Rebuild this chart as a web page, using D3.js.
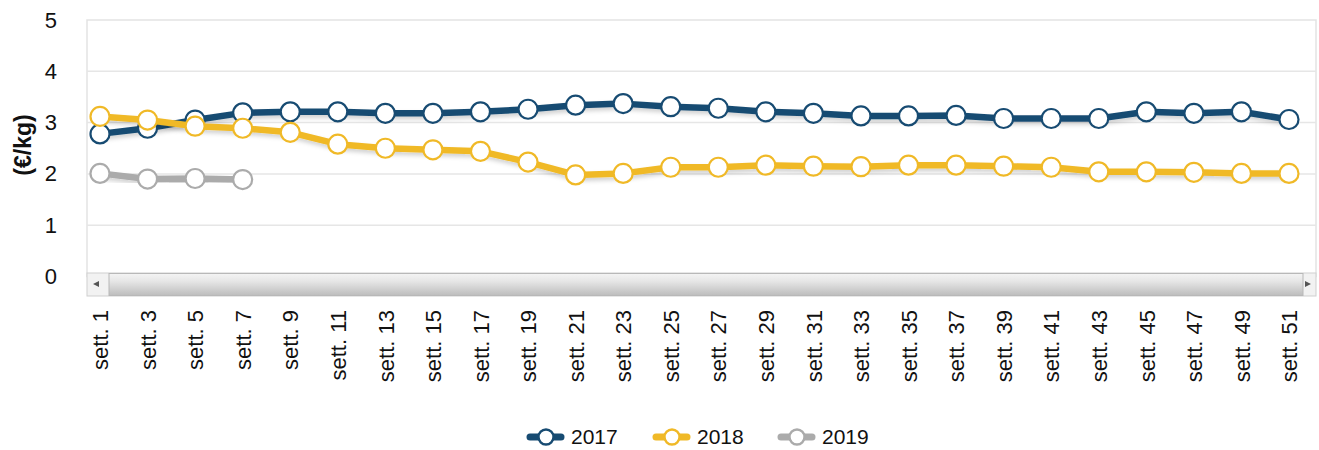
<!DOCTYPE html>
<html><head><meta charset="utf-8">
<script src="https://cdn.jsdelivr.net/npm/d3@7"></script>
<style>body{margin:0;background:#fff;} svg{display:block;font-family:"Liberation Sans",Arial,sans-serif;}</style>
</head><body>
<svg id="c" width="1319" height="450"></svg>
<script>
const categories = ["sett. 1","sett. 3","sett. 5","sett. 7","sett. 9","sett. 11","sett. 13","sett. 15","sett. 17","sett. 19","sett. 21","sett. 23","sett. 25","sett. 27","sett. 29","sett. 31","sett. 33","sett. 35","sett. 37","sett. 39","sett. 41","sett. 43","sett. 45","sett. 47","sett. 49","sett. 51"];
const values2017 = [2.78,2.89,3.05,3.19,3.21,3.21,3.18,3.18,3.21,3.26,3.34,3.37,3.31,3.28,3.21,3.18,3.13,3.13,3.14,3.08,3.08,3.08,3.21,3.18,3.21,3.06];
const values2018 = [3.12,3.05,2.93,2.89,2.81,2.58,2.50,2.47,2.44,2.23,1.98,2.01,2.13,2.13,2.17,2.15,2.14,2.17,2.17,2.15,2.13,2.04,2.04,2.03,2.01,2.01];
const values2019 = [2.01,1.90,1.91,1.89];
const seriesNames = ["2017","2018","2019"];
const seriesColors = ["#174b72","#f0b927","#ababab"];
const yTicks = [0,1,2,3,4,5];

const svg = d3.select("#c");
const plot = {left:87, right:1316, top:20, bottom:276.5};
const x = d3.scalePoint().domain(categories).range([100,1289]);
const y = d3.scaleLinear().domain([0,5]).range([plot.bottom, plot.top]);

const defs = svg.append("defs");
const f = defs.append("filter").attr("id","sh").attr("x","-5%").attr("y","-50%").attr("width","110%").attr("height","200%");
f.append("feDropShadow").attr("dx",1).attr("dy",3).attr("stdDeviation",2).attr("flood-color","#000").attr("flood-opacity",0.18);
const g1 = defs.append("linearGradient").attr("id","thumb").attr("x1",0).attr("y1",0).attr("x2",0).attr("y2",1);
g1.append("stop").attr("offset","0%").attr("stop-color","#f4f4f4");
g1.append("stop").attr("offset","35%").attr("stop-color","#e6e6e6");
g1.append("stop").attr("offset","100%").attr("stop-color","#bdbdbd");

// plot frame
svg.append("rect").attr("x",plot.left).attr("y",plot.top).attr("width",plot.right-plot.left).attr("height",plot.bottom-plot.top)
  .attr("fill","#fff").attr("stroke","#e3e3e3").attr("stroke-width",1.5);

// gridlines
svg.append("g").selectAll("line").data(yTicks.filter(d=>d>0&&d<5)).join("line")
  .attr("x1",plot.left).attr("x2",plot.right).attr("y1",d=>y(d)).attr("y2",d=>y(d))
  .attr("stroke","#e6e6e6").attr("stroke-width",1.5);

// y axis
const yAxis = d3.axisLeft(y).tickValues(yTicks).tickSize(0).tickPadding(0).tickFormat(d3.format("d"));
const ya = svg.append("g").attr("transform","translate(57,0)").call(yAxis);
ya.select(".domain").remove();
ya.selectAll("text").attr("font-size",22).attr("fill","#111").attr("font-family","Liberation Sans, Arial, sans-serif");

svg.append("text").attr("transform","translate(31,145) rotate(-90)").attr("text-anchor","middle")
  .attr("font-size",23).attr("font-weight","bold").attr("fill","#111").text("(€/kg)");

// x axis
const xAxis = d3.axisBottom(x).tickSize(0).tickPadding(0);
const xa = svg.append("g").attr("transform","translate(0,310)").call(xAxis);
xa.select(".domain").remove();
xa.selectAll("text").attr("font-size",22).attr("fill","#111").attr("font-family","Liberation Sans, Arial, sans-serif")
  .attr("text-anchor","end").attr("dy","0.35em").attr("dx",0).attr("y",0).attr("transform","rotate(-90)");

// series
const allSeries = [values2017, values2018, values2019];
const line = d3.line().x((d,i)=>x(categories[i])).y(d=>y(d));
allSeries.forEach((vals,k)=>{
  const g = svg.append("g");
  g.append("path").datum(vals).attr("d",line).attr("fill","none").attr("stroke",seriesColors[k])
    .attr("stroke-width",6.5).attr("stroke-linejoin","round").attr("filter","url(#sh)");
  g.selectAll("circle").data(vals).join("circle")
    .attr("cx",(d,i)=>x(categories[i])).attr("cy",d=>y(d)).attr("r",9.5)
    .attr("fill","#fff").attr("stroke",seriesColors[k]).attr("stroke-width",2.2);
});

// scrollbar
const sb = svg.append("g");
sb.append("rect").attr("x",plot.left).attr("y",273).attr("width",plot.right-plot.left).attr("height",23)
  .attr("fill","#f2f2f2").attr("stroke","#cfcfcf");
sb.append("rect").attr("x",109).attr("y",273.5).attr("width",1303-109).attr("height",22)
  .attr("fill","url(#thumb)").attr("stroke","#b8b8b8");
sb.append("path").attr("d","M93,284 L99,281 L99,287 Z").attr("fill","#555");
sb.append("path").attr("d","M1311,284 L1305,281 L1305,287 Z").attr("fill","#555");

// legend
const legX = [530, 656, 781];
const lg = svg.append("g");
seriesNames.forEach((n,k)=>{
  const cx = legX[k];
  lg.append("line").attr("x1",cx).attr("x2",cx+31).attr("y1",437).attr("y2",437)
    .attr("stroke",seriesColors[k]).attr("stroke-width",7).attr("stroke-linecap","round");
  lg.append("circle").attr("cx",cx+16).attr("cy",437).attr("r",7.5).attr("fill","#fff")
    .attr("stroke",seriesColors[k]).attr("stroke-width",2.4);
  lg.append("text").attr("x",cx+41).attr("y",444).attr("font-size",21).attr("fill","#111").text(n);
});
</script>
</body></html>
